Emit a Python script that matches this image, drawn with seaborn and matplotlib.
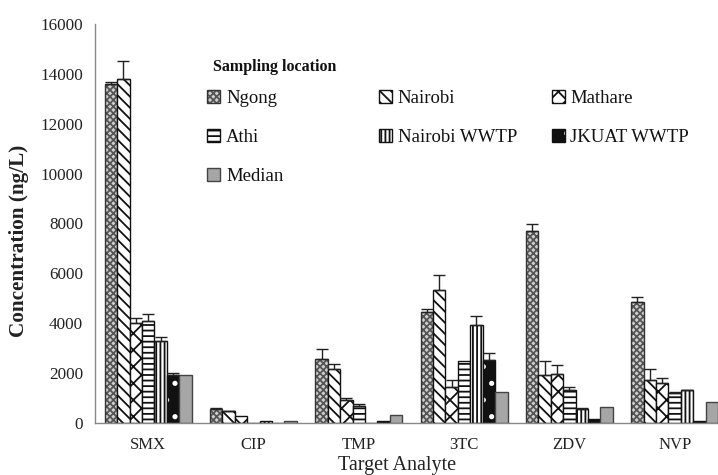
import numpy as np
import pandas as pd
import matplotlib
matplotlib.use("Agg")
import matplotlib.pyplot as plt
import seaborn as sns
from matplotlib.patches import Patch

analytes = ["SMX", "CIP", "TMP", "3TC", "ZDV", "NVP"]
locations = ["Ngong", "Nairobi", "Mathare", "Athi", "Nairobi WWTP", "JKUAT WWTP", "Median"]

ngong = [13600, 550, 2550, 4440, 7710, 4840]
nairobi = [13800, 470, 2150, 5340, 1920, 1720]
mathare = [4000, 280, 920, 1440, 1970, 1610]
athi = [4100, 0, 690, 2470, 1300, 1180]
nairobi_wwtp = [3300, 60, 0, 3920, 570, 1300]
jkuat_wwtp = [1900, 0, 60, 2500, 150, 80]
median = [1900, 80, 330, 1250, 640, 820]

err_ngong = [90, 50, 420, 120, 250, 200]
err_nairobi = [700, 20, 210, 600, 550, 430]
err_mathare = [200, 0, 80, 280, 350, 180]
err_athi = [250, 0, 60, 0, 140, 40]
err_nairobi_wwtp = [150, 0, 0, 350, 40, 30]
err_jkuat_wwtp = [100, 0, 0, 280, 0, 0]
err_median = [0, 0, 0, 0, 0, 0]

values = [ngong, nairobi, mathare, athi, nairobi_wwtp, jkuat_wwtp, median]
errors = [err_ngong, err_nairobi, err_mathare, err_athi, err_nairobi_wwtp, err_jkuat_wwtp, err_median]

rows = []
for loc, vals in zip(locations, values):
    for a, v in zip(analytes, vals):
        rows.append({"Analyte": a, "Location": loc, "Value": v})
df = pd.DataFrame(rows)

sns.set_theme(style="white")
plt.rcParams["font.family"] = ["Liberation Serif", "DejaVu Serif"]
plt.rcParams["hatch.linewidth"] = 1.3

fig = plt.figure(figsize=(7.18, 4.75), dpi=100)
ax = fig.add_axes([0.133, 0.110, 1.013 - 0.133, 0.9495 - 0.110])

styles = {
    "Ngong": dict(fc="#d0d0d0", ec="#333333", hatch="xxxxx", hc="#555555"),
    "Nairobi": dict(fc="white", ec="#111111", hatch="\\\\\\", hc="#111111"),
    "Mathare": dict(fc="white", ec="#111111", hatch="xx", hc="#111111"),
    "Athi": dict(fc="white", ec="#111111", hatch="---", hc="#111111"),
    "Nairobi WWTP": dict(fc="white", ec="#111111", hatch="||||", hc="#111111"),
    "JKUAT WWTP": dict(fc="#111111", ec="#111111", hatch=".", hc="white"),
    "Median": dict(fc="#a6a6a6", ec="#444444", hatch=None, hc=None),
}

sns.barplot(data=df, x="Analyte", y="Value", hue="Location", order=analytes,
            hue_order=locations, width=0.825, errorbar=None, ax=ax,
            legend=False, linewidth=1.0)

for cont, loc, errs in zip(ax.containers, locations, errors):
    st = styles[loc]
    xs, tops = [], []
    for bar in cont:
        bar.set_facecolor(st["fc"])
        bar.set_edgecolor(st["ec"])
        bar.set_linewidth(1.0)
        if st["hatch"]:
            bar.set_hatch(st["hatch"])
            bar._hatch_color = matplotlib.colors.to_rgba(st["hc"])
        xs.append(bar.get_x() + bar.get_width() / 2)
        tops.append(bar.get_height())
    errs = np.array(errs)
    mask = errs > 0
    if mask.any():
        ax.errorbar(np.array(xs)[mask], np.array(tops)[mask],
                    yerr=[np.zeros(mask.sum()), errs[mask]],
                    fmt="none", ecolor="#222222", elinewidth=1.0,
                    capsize=4, capthick=1.0, zorder=5)

ax.set_xlim(-0.5, len(analytes) - 0.5)
ax.set_ylim(0, 16000)
ax.set_yticks(np.arange(0, 16001, 2000))
ax.set_xticks(range(len(analytes)))
ax.set_xticklabels(analytes)
ax.set_xticks(np.arange(-0.5, len(analytes), 1.0), minor=True)
ax.tick_params(axis="x", which="major", length=0, pad=10, labelsize=12, colors="#222222")
ax.tick_params(axis="x", which="minor", length=5, width=1, color="#888888", direction="out")
ax.tick_params(axis="y", length=5, width=1, color="#888888", direction="out",
               labelsize=12.3, labelcolor="#222222", pad=4)

for s in ["top", "right"]:
    ax.spines[s].set_visible(False)
for s in ["left", "bottom"]:
    ax.spines[s].set_color("#888888")
    ax.spines[s].set_linewidth(1.0)

ax.set_ylabel("Concentration (ng/L)", fontsize=15.3, fontweight="bold", color="#222222")
ax.yaxis.set_label_coords(-0.105, 0.455)
ax.set_xlabel("Target Analyte", fontsize=14.5, color="#222222")
ax.xaxis.set_label_coords(0.478, -0.084)

# Legend: title + three columns
ax.text(0.186, 0.892, "Sampling location", transform=ax.transAxes,
        fontsize=11.5, fontweight="bold", color="#111111", va="center", ha="left")

columns = [["Ngong", "Athi", "Median"],
           ["Nairobi", "Nairobi WWTP"],
           ["Mathare", "JKUAT WWTP"]]
col_x = [0.177, 0.449, 0.722]
for i, (col, xpos) in enumerate(zip(columns, col_x)):
    handles = []
    for loc in col:
        st = styles[loc]
        p = Patch(facecolor=st["fc"], edgecolor=st["ec"], hatch=st["hatch"],
                  linewidth=1.0, label=loc)
        if st["hatch"]:
            p._hatch_color = matplotlib.colors.to_rgba(st["hc"])
        handles.append(p)
    leg = ax.legend(handles=handles, loc="upper left", bbox_to_anchor=(xpos, 0.834),
                    frameon=False, fontsize=13.5, handlelength=0.7, handleheight=0.7,
                    handletextpad=0.3, labelspacing=1.15, borderpad=0, borderaxespad=0,
                    labelcolor="#111111")
    if i < len(columns) - 1:
        ax.add_artist(leg)

fig.savefig("out.png", dpi=100)
